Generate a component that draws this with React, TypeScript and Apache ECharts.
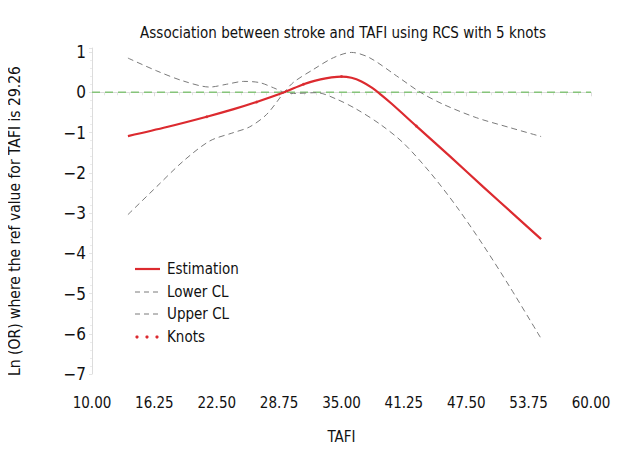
import React, { useEffect, useRef } from "react";
import * as echarts from "echarts";

const FONT = "'DejaVu Sans Condensed', 'DejaVu Sans', sans-serif";

const estX = [13.6, 17.5, 21.5, 24.2, 26.5, 29.26, 31.2, 32.9, 34.0, 35.0, 36.0, 37.0, 38.0, 39.0, 40.0, 42.5, 45.9, 49.2, 52.5, 55.0];
const estY = [-1.09, -0.864, -0.608, -0.42, -0.24, 0, 0.2, 0.32, 0.37, 0.39, 0.36, 0.27, 0.12, -0.07, -0.28, -0.84, -1.6, -2.35, -3.09, -3.65];

const lowerX = [13.6, 16.5, 19.15, 21.8, 24.2, 25.8, 27.5, 29.26, 30.2, 32.2, 34.2, 36.0, 37.8, 40.5, 42.9, 45.2, 48.5, 51.9, 55.0];
const lowerY = [-3.04, -2.34, -1.71, -1.21, -1.0, -0.86, -0.55, 0, 0.25, 0.57, 0.86, 0.99, 0.86, 0.41, 0, -0.3, -0.63, -0.88, -1.1];

const upperX = [13.6, 16.5, 19.15, 21.8, 23.5, 25.2, 26.8, 28.2, 29.26, 30.2, 32.5, 34.5, 36.5, 38.9, 41.2, 43.9, 46.5, 49.2, 51.9, 55.0];
const upperY = [0.85, 0.53, 0.28, 0.13, 0.2, 0.27, 0.24, 0.11, 0, -0.03, -0.01, -0.17, -0.42, -0.8, -1.26, -2.0, -2.83, -3.8, -4.85, -6.12];

const knotX = [21.5, 26.5, 31.2, 35.0, 42.5];
const knotY = [-0.608, -0.24, 0.2, 0.39, -0.84];

const xTicks = ["10.00", "16.25", "22.50", "28.75", "35.00", "41.25", "47.50", "53.75", "60.00"];
const legendNames = ["Estimation", "Lower CL", "Upper CL", "Knots"];

const zip = (xs: number[], ys: number[]) => xs.map((x, i) => [x, ys[i]]);

const RED = "#dc2a2f";
const GRAY = "#7a7a7a";
const TEXT = "#111";

function legendGraphic() {
  const x0 = 135;
  const x1 = 160;
  const ys = [269, 292, 314, 337];
  const els: any[] = [];
  els.push({ type: "line", shape: { x1: x0, y1: ys[0], x2: x1, y2: ys[0] }, style: { stroke: RED, lineWidth: 2.2 } });
  [1, 2].forEach((i) =>
    els.push({
      type: "line",
      shape: { x1: x0, y1: ys[i], x2: x1, y2: ys[i] },
      style: { stroke: GRAY, lineWidth: 1, lineDash: [5, 4] },
    })
  );
  [137, 147, 157].forEach((cx) =>
    els.push({ type: "circle", shape: { cx, cy: ys[3], r: 1.6 }, style: { fill: RED } })
  );
  legendNames.forEach((n, i) =>
    els.push({
      type: "text",
      x: 167,
      y: ys[i],
      style: { text: n, font: `15px ${FONT}`, fill: TEXT, verticalAlign: "middle" },
    })
  );
  return els;
}

export default function App() {
  const ref = useRef<HTMLDivElement>(null);
  useEffect(() => {
    if (!ref.current) return;
    const chart = echarts.init(ref.current, null, { renderer: "svg" });
    chart.setOption({
      animation: false,
      backgroundColor: "#fff",
      title: {
        text: "Association between stroke and TAFI using RCS with 5 knots",
        left: 338,
        textAlign: "center",
        top: 20,
        textStyle: { fontFamily: FONT, fontSize: 15, fontWeight: "normal", color: TEXT },
      },
      grid: { left: 92, right: 49, top: 48, bottom: 86 },
      graphic: [
        ...legendGraphic(),
        {
          type: "text",
          x: 15,
          y: 221,
          rotation: Math.PI / 2,
          style: {
            text: "Ln (OR) where the ref value for TAFI is 29.26",
            font: `15.5px ${FONT}`,
            fill: TEXT,
            align: "center",
            verticalAlign: "middle",
          },
        },
      ],
      xAxis: {
        type: "value",
        min: 10,
        max: 60,
        interval: 6.25,
        name: "TAFI",
        nameLocation: "middle",
        nameGap: 55,
        nameTextStyle: { fontFamily: FONT, fontSize: 15, color: TEXT },
        axisLine: { show: true, lineStyle: { color: "#dcdcdc" } },
        axisTick: { show: true, length: 4, lineStyle: { color: "#dcdcdc" } },
        minorTick: { show: true, splitNumber: 5, length: 3, lineStyle: { color: "#e4e4e4" } },
        splitLine: { show: false },
        axisLabel: {
          margin: 21,
          fontFamily: FONT,
          fontSize: 15,
          color: TEXT,
          formatter: (v: number) => xTicks[Math.round((v - 10) / 6.25)] ?? v.toFixed(2),
        },
      },
      yAxis: {
        type: "value",
        min: -7,
        max: 1.1,
        interval: 1,
        axisLine: { show: true, lineStyle: { color: "#dcdcdc" } },
        axisTick: { show: true, length: 3, lineStyle: { color: "#e4e4e4" } },
        minorTick: { show: true, splitNumber: 5, length: 2, lineStyle: { color: "#ececec" } },
        splitLine: { show: false },
        axisLabel: {
          showMaxLabel: false,
          margin: 6,
          fontFamily: FONT,
          fontSize: 17,
          color: TEXT,
          formatter: (v: number) => (Number.isInteger(v) ? String(v).replace("-", "\u2212") : ""),
        },
      },
      series: [
        {
          name: "Zero",
          type: "line",
          data: [[10, 0], [60, 0]],
          symbol: "none",
          silent: true,
          lineStyle: { color: "#86c47a", width: 1.3, type: [8, 5] },
          z: 1,
        },
        {
          name: "Lower CL",
          type: "line",
          data: zip(lowerX, lowerY),
          smooth: 0.3,
          symbol: "none",
          lineStyle: { color: GRAY, width: 1, type: [6, 4] },
          itemStyle: { color: GRAY },
          z: 2,
        },
        {
          name: "Upper CL",
          type: "line",
          data: zip(upperX, upperY),
          smooth: 0.3,
          symbol: "none",
          lineStyle: { color: GRAY, width: 1, type: [6, 4] },
          itemStyle: { color: GRAY },
          z: 2,
        },
        {
          name: "Estimation",
          type: "line",
          data: zip(estX, estY),
          smooth: 0.3,
          symbol: "none",
          lineStyle: { color: RED, width: 2.2 },
          itemStyle: { color: RED },
          z: 3,
        },
        {
          name: "Knots",
          type: "scatter",
          data: zip(knotX, knotY),
          symbol: "circle",
          symbolSize: 3,
          itemStyle: { color: RED },
          z: 4,
        },
      ],
    });
    return () => chart.dispose();
  }, []);
  return <div ref={ref} style={{ width: 640, height: 460, margin: -8 }} />;
}
